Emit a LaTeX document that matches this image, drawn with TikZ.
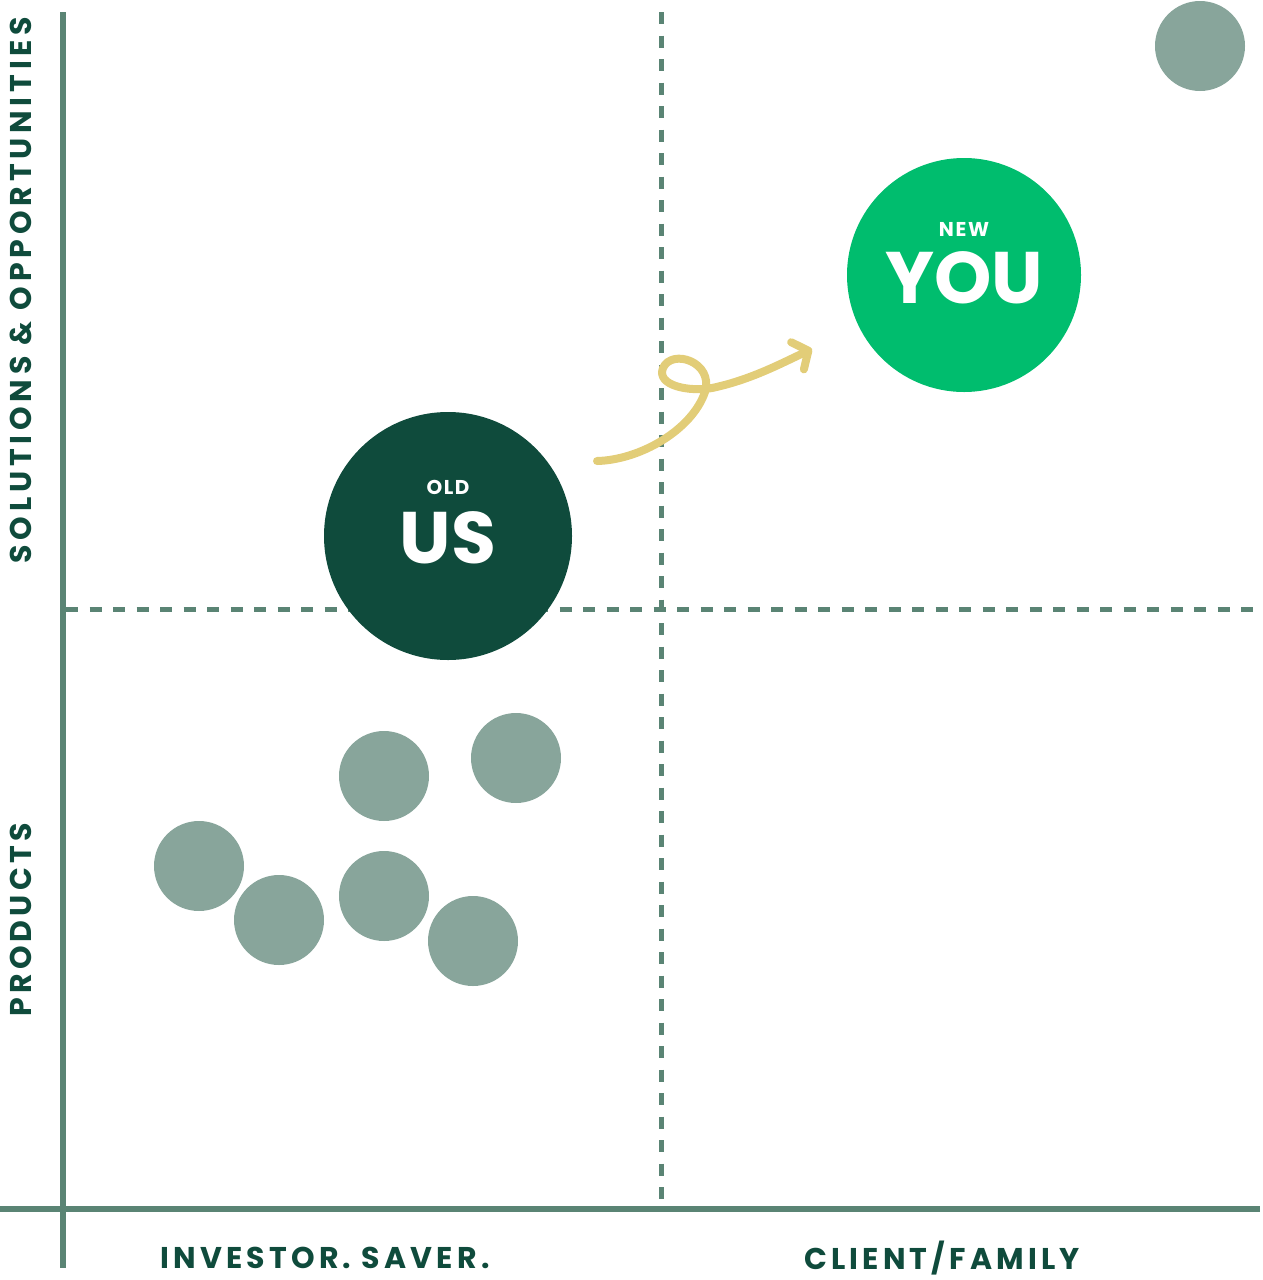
\documentclass[tikz,border=0pt]{standalone}
\usepackage{fontspec}
\setmainfont{Poppins}
\newfontfamily\axisfont[LetterSpace=14]{Poppins}
\newfontfamily\wideaxisfont[LetterSpace=16]{Poppins}
\newfontfamily\tagfont[LetterSpace=8]{Poppins}
\usetikzlibrary{arrows.meta, positioning, calc}
\definecolor{pinegreen}{HTML}{0F4B3C}
\definecolor{axisgreen}{HTML}{5A8474}
\definecolor{sagegray}{HTML}{88A59B}
\definecolor{mintgreen}{HTML}{00BD6E}
\definecolor{mustard}{HTML}{E2CD78}

\begin{document}
\begin{tikzpicture}[x=1pt, y=-1pt,
    axisline/.style={axisgreen, line width=6pt},
    divider/.style={axisgreen, line width=5pt, dash pattern=on 12pt off 11.5pt},
    dot/.style={circle, fill=sagegray, minimum size=90pt, inner sep=0pt},
    bigdot/.style={circle, minimum size=#1, inner sep=0pt},
    axislabel/.style={text=pinegreen, inner sep=0pt,
      font=\axisfont\bfseries\fontsize{30}{30}\selectfont},
    smalltag/.style={text=white, inner sep=0pt,
      font=\tagfont\bfseries\fontsize{20}{20}\selectfont},
    bigtag/.style={text=white, inner sep=0pt,
      font=\bfseries\fontsize{73}{73}\selectfont},
    curl/.style={mustard, line width=8pt, line cap=round, line join=round,
      -{Straight Barb[length=12pt, width=30pt, round]}}]
  \useasboundingbox (0,0) rectangle (1262,1280);

  % quadrant dividers
  \draw[divider] (661,12) -- (661,1206);
  \draw[divider] (66,609) -- (1262,609);

  % axes
  \draw[axisline] (63,12) -- (63,1268);
  \draw[axisline] (0,1209) -- (1260,1209);

  % axis labels
  \node[axislabel, font=\wideaxisfont\bfseries\fontsize{30}{30}\selectfont, rotate=90]
    (solutions) at (21,290) {SOLUTIONS \& OPPORTUNITIES};
  \node[axislabel, rotate=90] (products) at (21,920) {PRODUCTS};
  \node[axislabel] (investor) at (325,1258) {INVESTOR. SAVER.};
  \node[axislabel] (client) at (942,1258) {CLIENT/FAMILY};

  % product dots
  \foreach \x/\y [count=\i] in {384/776, 516/758, 199/866, 279/920, 384/896, 473/941, 1200/46}
    \node[dot] (dot\i) at (\x,\y) {};

  % old us / new you
  \node[bigdot=248pt, fill=pinegreen] (oldus) at (448,536) {};
  \node[smalltag] (oldtag) at ([yshift=49pt]oldus.center) {OLD};
  \node[bigtag] (ustag) at ([yshift=-2pt]oldus.center) {US};
  \node[bigdot=234pt, fill=mintgreen] (newyou) at (964,275) {};
  \node[smalltag] (newtag) at ([yshift=46pt]newyou.center) {NEW};
  \node[bigtag] (youtag) at ([yshift=-3pt]newyou.center) {YOU};

  % the loop arrow
  \coordinate (curlstart) at (597,461);
  \coordinate (curlend) at (812,349);
  \draw[curl] (curlstart) .. controls (640,460) and (692,430) .. (705,392)
    .. controls (714,362) and (672,348) .. (663,368)
    .. controls (656,386) and (690,392) .. (712,388)
    .. controls (750,380) and (780,364) .. (curlend);
\end{tikzpicture}
\end{document}
